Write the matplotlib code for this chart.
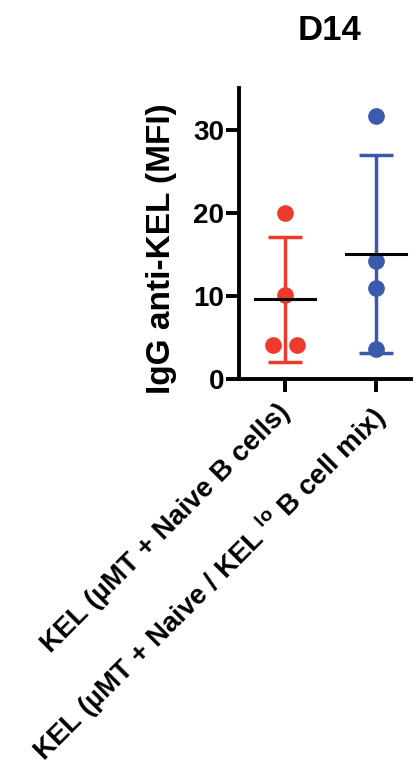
import numpy as np
import matplotlib
matplotlib.use("Agg")
import matplotlib.pyplot as plt
import matplotlib.transforms as mtransforms

plt.rcParams['font.family'] = ['Liberation Sans', 'DejaVu Sans']
plt.rcParams['font.weight'] = 'bold'
plt.rcParams['mathtext.fontset'] = 'custom'
plt.rcParams['mathtext.bf'] = 'Liberation Sans:bold'
plt.rcParams['mathtext.rm'] = 'Liberation Sans:bold'

groups = ["KEL (\u00b5MT + Naive B cells)",
          "KEL (\u00b5MT + Naive / KEL$^{\\mathrm{\\ lo}}$ B cell mix)"]
naive_vals = [20.0, 10.1, 4.1, 4.1]
mix_vals = [31.7, 14.2, 10.9, 3.6]
colors = ["#ec3a2d", "#3b5aae"]
yticks = [0, 10, 20, 30]


def spread(vals, width=0.13):
    # push tied values sideways like a scatter plot would
    offs = np.zeros(len(vals))
    vals = np.asarray(vals)
    for v in np.unique(vals):
        idx = np.where(vals == v)[0]
        if len(idx) > 1:
            offs[idx] = np.linspace(-width, width, len(idx))
    return offs


fig = plt.figure(figsize=(4.19, 7.73), dpi=100)
ax = fig.add_axes([0.570, 0.5097, 0.41, 0.376])

for i, (vals, c) in enumerate(zip([naive_vals, mix_vals], colors)):
    vals = np.array(vals)
    m = vals.mean()
    sd = vals.std(ddof=1)
    ax.errorbar(i, m, yerr=sd, color=c, lw=2.5, capsize=12, capthick=2.5, zorder=2)
    ax.plot(i + spread(vals), vals, 'o', color=c, ms=11, zorder=3)
    ax.plot([i - 0.33, i + 0.33], [m, m], color='black', lw=2.2, zorder=4)

ax.set_xlim(-0.505, 1.38)
ax.set_ylim(0, 35)
ax.set_yticks(yticks)
ax.set_xticks([0, 1])
ax.set_xticklabels(groups, rotation=45, ha='right', rotation_mode='anchor',
                   fontsize=23.5, fontweight='bold')
ax.tick_params(axis='both', width=2.8, length=9.5, labelsize=20)
ax.tick_params(axis='x', pad=4)
ax.tick_params(axis='y', pad=1)
for lab in ax.get_yticklabels():
    lab.set_fontweight('bold')
# nudge the slanted labels a little to the left
shift = mtransforms.ScaledTranslation(-8 / 100, -2 / 100, fig.dpi_scale_trans)
for lab in ax.get_xticklabels():
    lab.set_transform(lab.get_transform() + shift)
ax.spines['top'].set_visible(False)
ax.spines['right'].set_visible(False)
ax.spines['left'].set_linewidth(2.8)
ax.spines['bottom'].set_linewidth(2.8)
ax.spines['bottom'].set_bounds(-0.505, 1.38)

ax.set_ylabel("IgG anti-KEL (MFI)", fontsize=24, fontweight='bold', va='center')
ax.yaxis.set_label_coords(-0.448, 0.448)
ax.set_title("D14", fontsize=25, fontweight='bold', pad=35, x=0.53)

fig.savefig("out.png", dpi=100)
